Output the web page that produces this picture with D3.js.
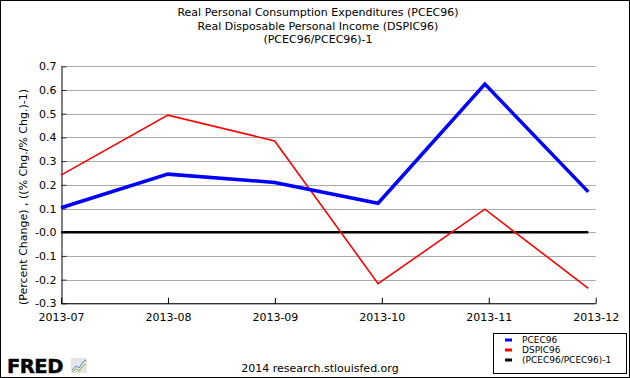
<!DOCTYPE html>
<html><head><meta charset="utf-8">
<script src="https://cdn.jsdelivr.net/npm/d3@7"></script>
<style>
html,body{margin:0;padding:0;background:#fff;}
svg{display:block;}
text{font-family:"DejaVu Sans",Verdana,sans-serif;fill:#000;}
</style></head><body>
<script>
// ---- data ----
const dates = ["2013-07-01","2013-08-01","2013-09-01","2013-10-01","2013-11-01","2013-12-01"];
const pcec96 = [0.103, 0.245, 0.210, 0.122, 0.625, 0.170];
const dspic96 = [0.241, 0.494, 0.385, -0.217, 0.097, -0.237];
const ratio = [0, 0, 0, 0, 0, 0];
const xTickLabels = ["2013-07","2013-08","2013-09","2013-10","2013-11","2013-12"];
const yTickValues = [0.7,0.6,0.5,0.4,0.3,0.2,0.1,0.0,-0.1,-0.2,-0.3];
const yTickLabels = ["0.7","0.6","0.5","0.4","0.3","0.2","0.1","-0.0","-0.1","-0.2","-0.3"];
const titleLines = ["Real Personal Consumption Expenditures (PCEC96)","Real Disposable Personal Income (DSPIC96)","(PCEC96/PCEC96)-1"];
const legendNames = ["PCEC96","DSPIC96","(PCEC96/PCEC96)-1"];
const colors = ["#0000ff","#ff0000","#000000"];

const W=630,H=378;
const svg=d3.select("body").append("svg").attr("width",W).attr("height",H);
svg.append("rect").attr("x",0.5).attr("y",0.5).attr("width",W-1).attr("height",H-1).attr("fill","#fff").attr("stroke","#000");

const L=61, R=595.7, T=66.3, B=303.3;
const parse=d3.timeParse("%Y-%m-%d");
const x=d3.scaleTime().domain([parse(dates[0]),parse(dates[dates.length-1])]).range([L,588.3]);
const xAxisScale=d3.scalePoint().domain(xTickLabels).range([L,R]);
const y=d3.scaleLinear().domain([-0.3,0.7]).range([B,T]);

// title
svg.append("g").selectAll("text").data(titleLines).join("text")
 .attr("x",318).attr("y",(d,i)=>16+i*13.5).attr("text-anchor","middle").attr("font-size","11px").text(d=>d);

// gridlines
svg.append("g").selectAll("line").data(yTickValues).join("line")
 .attr("x1",L).attr("x2",R).attr("y1",d=>Math.round(y(d))+0.5).attr("y2",d=>Math.round(y(d))+0.5)
 .attr("stroke","#aaaaaa").attr("stroke-width",1);

// y axis
const yAxis=d3.axisLeft(y).tickValues(yTickValues).tickSize(0).tickPadding(5)
 .tickFormat((d,i)=>yTickLabels[i]);
const gy=svg.append("g").attr("transform",`translate(${L+0.5},0)`).call(yAxis);
gy.select(".domain").attr("stroke","#000");
gy.selectAll("text").attr("font-size","11px").attr("font-family","DejaVu Sans").attr("fill","#000");
gy.selectAll(".tick").append("line").attr("x1",0).attr("x2",5).attr("stroke","#333");

// x axis
const xAxis=d3.axisBottom(xAxisScale).tickSize(0).tickPadding(9.5);
const gx=svg.append("g").attr("transform",`translate(0,${B+0.5})`).call(xAxis);
gx.select(".domain").attr("stroke","#000").attr("d",`M${L},0H${R}`);
gx.selectAll("text").attr("font-size","11px").attr("font-family","DejaVu Sans").attr("fill","#000");
gx.selectAll(".tick").append("line").attr("y1",0).attr("y2",-6).attr("stroke","#000");

// y label
svg.append("text").attr("transform","translate(27,197) rotate(-90)").attr("text-anchor","middle")
 .attr("font-size","11px").text("(Percent Change) , ((% Chg./% Chg.)-1)");

// lines
const line=d3.line().x((d,i)=>x(parse(dates[i]))).y(d=>y(d));
svg.append("path").datum(ratio).attr("d",line).attr("fill","none").attr("stroke","#000").attr("stroke-width",2.5);
svg.append("path").datum(dspic96).attr("d",line).attr("fill","none").attr("stroke","#ff0000").attr("stroke-width",1.6);
svg.append("path").datum(pcec96).attr("d",line).attr("fill","none").attr("stroke","#0000ff").attr("stroke-width",3.5);

// legend
const lg=svg.append("g");
lg.append("rect").attr("x",493.5).attr("y",333.5).attr("width",133).attr("height",40).attr("fill","#fff").attr("stroke","#000");
const items=lg.selectAll("g").data(legendNames).join("g").attr("transform",(d,i)=>`translate(0,${340+i*10})`);
items.append("line").attr("x1",505).attr("x2",512).attr("y1",0).attr("y2",0).attr("stroke",(d,i)=>colors[i]).attr("stroke-width",3);
items.append("text").attr("x",522).attr("y",3.3).attr("font-size","9px").text(d=>d);

// footer
svg.append("text").attr("x",320).attr("y",371.5).attr("text-anchor","middle").attr("font-size","11px").text("2014 research.stlouisfed.org");

// FRED logo
svg.append("text").attr("x",7).attr("y",373).attr("font-size","19.5px").attr("font-weight","bold").attr("fill","#1a1a1a").attr("stroke","#1a1a1a").attr("stroke-width",0.6).attr("letter-spacing","-0.5").text("FRED");
const ic=svg.append("g").attr("transform","translate(71,358)");
ic.append("rect").attr("width",16).attr("height",15).attr("fill","#e4e4e4");
ic.append("path").attr("d","M1,12L5,8L8,10L12,4L15,2").attr("fill","none").attr("stroke","#5b8bd0").attr("stroke-width",1);
ic.append("path").attr("d","M1,14L5,11L8,13L12,8L15,6").attr("fill","none").attr("stroke","#7cb342").attr("stroke-width",1);
</script>
</body></html>
